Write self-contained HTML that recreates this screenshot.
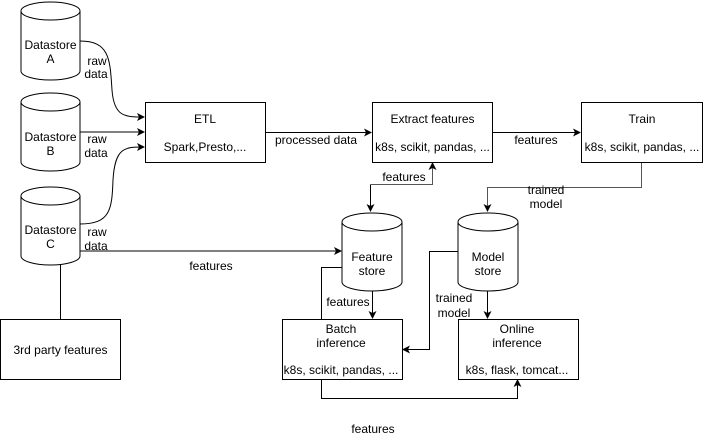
<!DOCTYPE html>
<html><head><meta charset="utf-8"><style>
body{margin:0;background:#fff}
svg{display:block}
text{font-family:"Liberation Sans",Arial,sans-serif;font-size:12px;fill:#000;text-anchor:middle}
</style></head><body>
<svg width="704" height="439" viewBox="0 0 704 439" xmlns="http://www.w3.org/2000/svg">
<defs>
<marker id="a" markerWidth="8" markerHeight="8" refX="7" refY="4" orient="auto" markerUnits="userSpaceOnUse">
<path d="M0,0 L8,4 L0,8 L2,4 Z" fill="#000"/></marker>
</defs>
<g fill="#fff" stroke="#000" stroke-width="1">
<!-- cylinders -->
<path d="M21,11 v60 a29.5,9 0 0 0 59,0 v-60"/><ellipse cx="50.5" cy="11" rx="29.5" ry="9"/>
<path d="M21,102 v60 a29.5,9 0 0 0 59,0 v-60"/><ellipse cx="50.5" cy="102" rx="29.5" ry="9"/>
<path d="M21,196 v60 a29.5,9 0 0 0 59,0 v-60"/><ellipse cx="50.5" cy="196" rx="29.5" ry="9"/>
<path d="M342,222 v60 a30,9 0 0 0 60,0 v-60"/><ellipse cx="372" cy="222" rx="30" ry="9"/>
<path d="M458,222 v60 a30,9 0 0 0 60,0 v-60"/><ellipse cx="488" cy="222" rx="30" ry="9"/>
<!-- boxes -->
<rect x="145.5" y="102.5" width="120" height="60"/>
<rect x="372.5" y="102.5" width="120" height="60"/>
<rect x="581.5" y="102.5" width="121" height="60"/>
<rect x="0.5" y="319.5" width="120" height="60"/>
<rect x="282.5" y="319.5" width="120" height="60"/>
<rect x="458.5" y="319.5" width="120" height="60"/>
</g>
<g fill="none" stroke="#000" stroke-width="1">
<path d="M80,41 C110,41 110,60 112,90 C114,117 125,117 144,117" marker-end="url(#a)"/>
<path d="M80,132 H144" marker-end="url(#a)"/>
<path d="M80,224 C110,224 112,210 113,180 C115,147 125,147 144,147" marker-end="url(#a)"/>
<path d="M80,251 H341" marker-end="url(#a)"/>
<path d="M60.5,265 V319"/>
<path d="M266,132.5 H371" marker-end="url(#a)"/>
<path d="M493,132.5 H580" marker-end="url(#a)"/>
<path d="M370.5,184.5 V211" marker-end="url(#a)" stroke="#000"/>
<path d="M370.5,184.5 H432.5 V163" marker-end="url(#a)" stroke="#555"/>
<path d="M641.5,163 V187.5 H487.5 V211" marker-end="url(#a)" stroke="#555"/>
<path d="M342,267.5 H321.5 V319"/>
<path d="M372.5,291 V318" marker-end="url(#a)"/>
<path d="M458,251.5 H429.5 V349.5 H403" marker-end="url(#a)"/>
<path d="M487.5,291 V318" marker-end="url(#a)"/>
<path d="M321.5,380 V398.5 H517.5 V380" marker-end="url(#a)"/>
</g>
<text x="50.5" y="49">Datastore</text><text x="50.5" y="63">A</text>
<text x="50.5" y="141">Datastore</text><text x="50.5" y="155">B</text>
<text x="50.5" y="234">Datastore</text><text x="50.5" y="248">C</text>
<text x="97" y="65">raw</text><text x="96" y="78">data</text>
<text x="97" y="143">raw</text><text x="96" y="157">data</text>
<text x="97" y="236">raw</text><text x="96" y="250">data</text>
<text x="211" y="270">features</text>
<text x="205" y="123">ETL</text><text x="205" y="151">Spark,Presto,...</text>
<text x="316" y="144">processed data</text>
<text x="432.5" y="123">Extract features</text><text x="432.5" y="151">k8s, scikit, pandas, ...</text>
<text x="536" y="144">features</text>
<text x="642" y="123">Train</text><text x="642" y="151">k8s, scikit, pandas, ...</text>
<text x="404" y="181">features</text>
<text x="546" y="194">trained</text><text x="546" y="208">model</text>
<text x="372" y="261">Feature</text><text x="372" y="275">store</text>
<text x="488" y="261">Model</text><text x="488" y="275">store</text>
<text x="348" y="306">features</text>
<text x="454" y="302">trained</text><text x="454" y="317">model</text>
<text x="60.5" y="354">3rd party features</text>
<text x="341" y="333">Batch</text><text x="341" y="347">inference</text><text x="341" y="374">k8s, scikit, pandas, ...</text>
<text x="517" y="333">Online</text><text x="517" y="347">inference</text><text x="517" y="374">k8s, flask, tomcat...</text>
<text x="373" y="433">features</text>
</svg>
</body></html>
